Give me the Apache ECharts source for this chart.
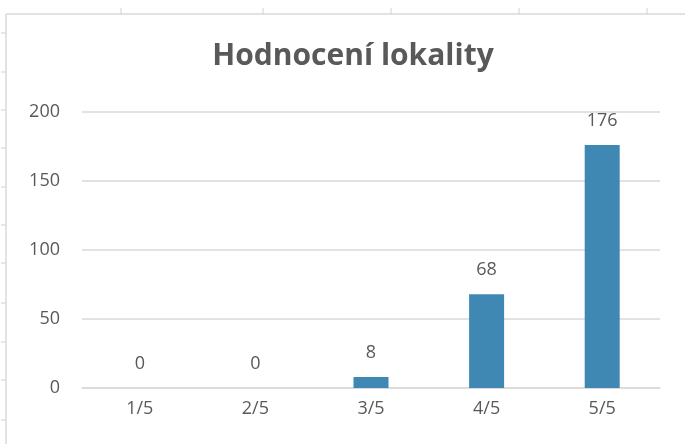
<!DOCTYPE html>
<html>
<head>
<meta charset="utf-8">
<script src="https://cdn.jsdelivr.net/npm/echarts@6/dist/echarts.min.js"></script>
<style>
  html, body { margin: 0; padding: 0; background: #fff; }
  #chart { width: 685px; height: 444px; }
</style>
</head>
<body>
<div id="chart"></div>
<script>
// hodnocení – počty hlasů
const categories = ['1/5', '2/5', '3/5', '4/5', '5/5'];
const counts = [0, 0, 8, 68, 176];
const yTicks = [0, 50, 100, 150, 200];

const textGray = '#595959';
const gridGray = '#d9d9d9';

const chart = echarts.init(document.getElementById('chart'));

// okraje listu (mřížka buněk excelu za grafem)
const sheetTicksX = [121, 263, 391, 519, 647];
const sheetTicksY = [33, 72, 110, 148, 187, 225, 263, 303, 342, 380, 420];
const decor = [
  { type: 'line', shape: { x1: 6, y1: 14, x2: 685, y2: 14 }, style: { stroke: '#d9d9d9', lineWidth: 1.5 } },
  { type: 'line', shape: { x1: 6, y1: 14, x2: 6, y2: 444 }, style: { stroke: '#d9d9d9', lineWidth: 1.5 } }
];
sheetTicksX.forEach((x) => {
  decor.push({ type: 'line', shape: { x1: x, y1: 8, x2: x, y2: 14 }, style: { stroke: '#d0d0d0', lineWidth: 1 } });
});
sheetTicksY.forEach((y) => {
  decor.push({ type: 'line', shape: { x1: 1, y1: y, x2: 6, y2: y }, style: { stroke: '#d0d0d0', lineWidth: 1 } });
});

const options = {
  animation: false,
  title: {
    text: 'Hodnocení lokality',
    left: 348,
    textAlign: 'center',
    top: 36,
    textStyle: {
      color: textGray,
      fontFamily: 'Open Sans',
      fontWeight: 'bold',
      fontSize: 30
    }
  },
  graphic: decor,
  grid: {
    left: 82,
    right: 25,
    top: 112,
    bottom: 56,
    containLabel: false
  },
  xAxis: {
    type: 'category',
    data: categories,
    axisLine: { lineStyle: { color: gridGray, width: 1.5 } },
    axisTick: { show: false },
    axisLabel: {
      color: textGray,
      fontFamily: 'Open Sans',
      fontSize: 18,
      margin: 12
    }
  },
  yAxis: {
    type: 'value',
    min: 0,
    max: 200,
    interval: 50,
    axisLine: { show: false },
    axisTick: { show: false },
    splitLine: { lineStyle: { color: gridGray, width: 1.5 } },
    axisLabel: {
      color: textGray,
      fontFamily: 'Open Sans',
      fontSize: 18,
      margin: 22
    }
  },
  series: [
    {
      name: 'count',
      type: 'bar',
      data: counts,
      barWidth: 35,
      itemStyle: { color: '#3f88b4' },
      label: {
        show: true,
        position: 'top',
        distance: 15,
        color: textGray,
        fontFamily: 'Open Sans',
        fontSize: 18
      }
    }
  ]
};
chart.setOption(options);
</script>
</body>
</html>
